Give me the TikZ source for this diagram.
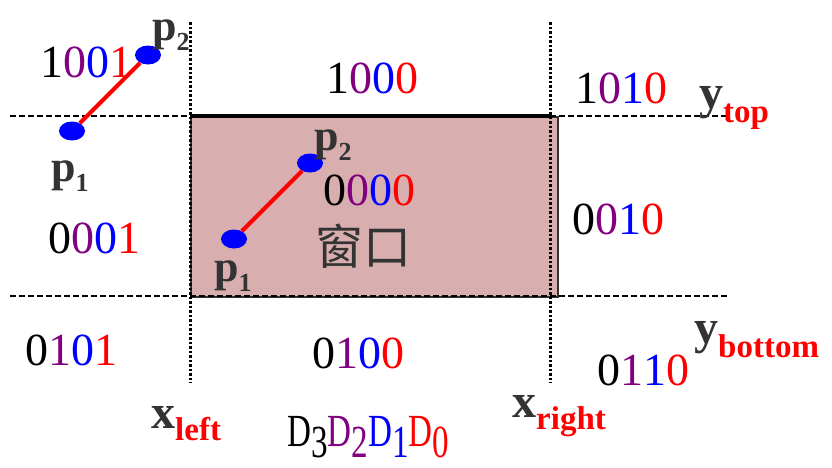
\documentclass[tikz,border=0pt]{standalone}
\usepackage{fontspec}
\setmainfont{Liberation Serif}
\newfontfamily\cjk{Noto Sans CJK SC}
\usetikzlibrary{shapes.geometric}
\definecolor{bpurple}{RGB}{128,0,128}
\definecolor{winfill}{RGB}{216,174,174}
\definecolor{labgray}{RGB}{51,51,51}
\newcommand\bits[4]{{\color{black}#1}{\color{bpurple}#2}{\color{blue}#3}{\color{red}#4}}
\newcommand\plab[1]{{\color{labgray}\fontsize{44}{44}\selectfont\bfseries p\raisebox{-10pt}{\fontsize{26}{26}\selectfont #1}}}
\newcommand\axlab[3]{{\fontsize{48}{48}\selectfont\bfseries{\color{labgray}#1}\raisebox{-#3}{\color{red}\fontsize{33}{33}\selectfont #2}}}
\newcommand\dsub[2]{{\color{#1}D\raisebox{-11pt}{#2}}}
\begin{document}
\begin{tikzpicture}[x=1pt,y=-1pt,
  code/.style={inner sep=0pt,anchor=base west,font=\fontsize{46}{46}\selectfont},
  lab/.style={inner sep=0pt,anchor=base west},
  pt/.style={ellipse,fill=blue,minimum width=26pt,minimum height=19pt,inner sep=0pt},
  seg/.style={red,line width=4pt},
  hline/.style={line width=2pt,dash pattern=on 6pt off 3pt},
  vline/.style={line width=3pt,dash pattern=on 2.5pt off 2pt}]
\useasboundingbox (0,0) rectangle (832,467);
% window
\node[draw=labgray,fill=winfill,line width=1.5pt,inner sep=0pt,anchor=north west,
  minimum width=367pt,minimum height=180pt] (win) at (190,116) {};
% clipping lines
\coordinate (htl) at (10,116); \coordinate (htr) at (727,116);
\coordinate (hbl) at (10,296); \coordinate (hbr) at (727,296);
\coordinate (vlt) at (190,22); \coordinate (vlb) at (190,383);
\coordinate (vrt) at (550,22); \coordinate (vrb) at (550,383);
\draw[hline] (htl) -- (htr);
\draw[hline] (hbl) -- (hbr);
\draw[vline] (vlt) -- (vlb);
\draw[vline] (vrt) -- (vrb);
\coordinate (tl) at (190,116); \coordinate (tr) at (550,116);
\draw[line width=3.5pt] (tl) -- (tr);
% codes
\node[code] (c1001) at (40,77) {\bits1001};
\node[code] (c1000) at (326,93) {\bits1000};
\node[code] (c1010) at (575,103) {\bits1010};
\node[code] (c0000) at (323,205) {\bits0000};
\node[code] (c0001) at (48,253) {\bits0001};
\node[code] (c0010) at (572,234) {\bits0010};
\node[code] (c0101) at (25,365) {\bits0101};
\node[code] (c0100) at (312,368) {\bits0100};
\node[code] (c0110) at (597,385) {\bits0110};
\node[lab,anchor=north west,text=labgray,font=\cjk\fontsize{48}{48}\selectfont] (wtext) at (315,224) {窗口};
% segments
\node[pt] (ap1) at (72,131) {};
\node[pt] (ap2) at (148,55) {};
\draw[seg] (ap1) -- (ap2);
\node[pt] (bp1) at (234,239) {};
\node[pt] (bp2) at (310,163) {};
\draw[seg] (bp1) -- (bp2);
\node[lab] (lap2) at (152,40) {\plab2};
\node[lab] (lap1) at (51,181) {\plab1};
\node[lab] (lbp2) at (314,150) {\plab2};
\node[lab] (lbp1) at (214,281) {\plab1};
% axis labels
\node[lab] (ytop) at (699,108) {\axlab{y}{top}{14pt}};
\node[lab] (ybot) at (694,343) {\axlab{y}{bottom}{14pt}};
\node[lab] (xleft) at (151,428) {\axlab{x}{left}{12pt}};
\node[lab] (xright) at (512,417) {\axlab{x}{right}{12pt}};
\node[lab] (dd) at (287,446) {\fontsize{46}{46}\selectfont\scalebox{0.72}[1]{\dsub{black}3\dsub{bpurple}2\dsub{blue}1\dsub{red}0}};
\end{tikzpicture}
\end{document}
